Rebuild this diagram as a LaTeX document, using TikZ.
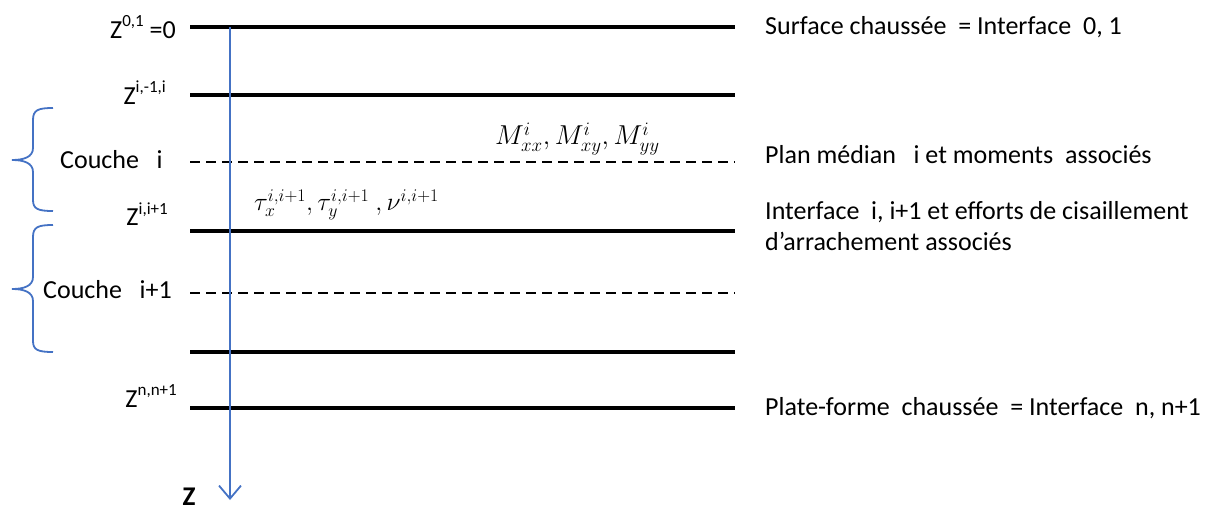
\documentclass[tikz,border=0pt]{standalone}
\usepackage{fontspec}
\usepackage{graphicx}
\setmainfont{Carlito}
\usetikzlibrary{arrows.meta}
\definecolor{axisblue}{RGB}{68,114,196}
\newcommand{\zsup}[1]{\raisebox{0.45em}{\fontsize{17}{17}\selectfont #1}}
\begin{document}
\begin{tikzpicture}[x=1pt,y=-1pt,
  txt/.style={font=\fontsize{26}{31}\selectfont, inner sep=0pt},
  lbl/.style={txt, anchor=west},
  zlbl/.style={txt, anchor=east},
  interface/.style={line width=3.6pt},
  median/.style={line width=1.6pt, dash pattern=on 10pt off 6pt},
  axis/.style={draw=axisblue, line width=1.8pt, -{Straight Barb[length=13pt,width=22pt,line width=1.8pt]}},
  bracket/.style={draw=axisblue, line width=1.8pt}]
\useasboundingbox (0,0) rectangle (1215,511);

% layer boundaries and median planes
\coordinate (l0a) at (190,27);  \coordinate (l0b) at (735,27);
\coordinate (l1a) at (190,95);  \coordinate (l1b) at (735,95);
\coordinate (m1a) at (190,162); \coordinate (m1b) at (735,162);
\coordinate (l2a) at (190,231); \coordinate (l2b) at (735,231);
\coordinate (m2a) at (190,293); \coordinate (m2b) at (735,293);
\coordinate (l3a) at (190,352); \coordinate (l3b) at (735,352);
\coordinate (l4a) at (190,408); \coordinate (l4b) at (735,408);
\draw[interface] (l0a) -- (l0b);
\draw[interface] (l1a) -- (l1b);
\draw[median] (m1a) -- (m1b);
\draw[interface] (l2a) -- (l2b);
\draw[median] (m2a) -- (m2b);
\draw[interface] (l3a) -- (l3b);
\draw[interface] (l4a) -- (l4b);

% depth axis
\coordinate (ztop) at (230,27);
\coordinate (zbot) at (230,500);
\draw[axis] (ztop) -- (zbot);
\node[txt, font=\fontsize{27}{28}\selectfont\bfseries] (zname) at (189,497) {Z};

% depth labels
\node[zlbl] (z01) at (176,27) {Z\zsup{0,1} =0};
\node[zlbl] (z1) at (166,93) {Z\zsup{i,-1,i}};
\node[zlbl] (z2) at (168,214) {Z\zsup{i,i+1}};
\node[zlbl] (zn) at (177,396) {Z\zsup{n,n+1}};

% layer names with their brackets
\node[txt, anchor=west] (c1) at (60,160) {Couche\ \ \ i};
\node[txt, anchor=west] (c2) at (43,290) {Couche\ \ \ i+1};
\draw[bracket] (53,108) .. controls (38,108) and (33,110) .. (33,120)
  -- (33,148) .. controls (33,157) and (24,160) .. (12,160)
  .. controls (24,160) and (33,163) .. (33,172)
  -- (33,200) .. controls (33,209) and (38,211) .. (53,211);
\draw[bracket] (53,225) .. controls (38,225) and (33,227) .. (33,237)
  -- (33,277) .. controls (33,286) and (24,289) .. (12,289)
  .. controls (24,289) and (33,292) .. (33,301)
  -- (33,341) .. controls (33,350) and (38,352) .. (53,352);

% moments and interface stresses
\node[txt, anchor=west] (mom) at (495,139) {\scalebox{1.1}{$M^i_{xx},M^i_{xy},M^i_{yy}$}};
\node[txt, anchor=west] (tau) at (254,205) {\scalebox{1.03}{$\tau^{i,i+1}_x,\tau^{i,i+1}_y\ ,\nu^{i,i+1}$}};

% descriptions
\node[lbl] (d0) at (765,27) {Surface chaussée\ \ = Interface\ \ 0, 1};
\node[lbl] (d1) at (765,155) {Plan médian\ \ \ i et moments\ \ associés};
\node[lbl, align=left, anchor=north west] (d2) at (765,201) {Interface\ \ i, i+1 et efforts de cisaillement\\d’arrachement associés};
\node[lbl] (d3) at (765,408) {Plate-forme\ \ chaussée\ \ = Interface\ \ n, n+1};
\end{tikzpicture}
\end{document}
